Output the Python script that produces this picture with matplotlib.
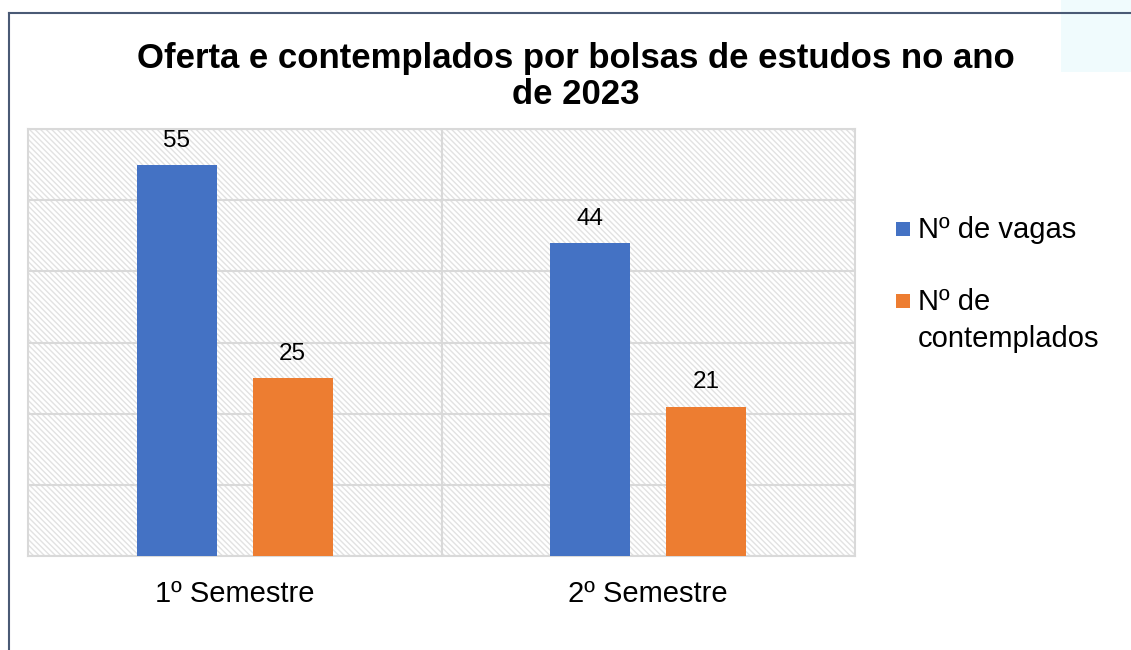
import matplotlib
matplotlib.use("Agg")
import matplotlib.pyplot as plt
from matplotlib.patches import Rectangle
from matplotlib.lines import Line2D
import numpy as np

plt.rcParams["font.family"] = ["Liberation Sans", "DejaVu Sans"]
plt.rcParams["hatch.linewidth"] = 1.0

# data
categories = ["1º Semestre", "2º Semestre"]
series_names = ["Nº de vagas", "Nº de\ncontemplados"]
vagas = [55, 44]
contemplados = [25, 21]
colors = ["#4472C4", "#ED7D31"]

W, H = 1131, 650
fig = plt.figure(figsize=(W / 100, H / 100), dpi=100)

# outer frame (runs off the right and bottom edges) and the light blue patch
fig.add_artist(Line2D([9 / W, 9 / W], [0, 1 - 13 / H], color="#4a5a75", lw=1.5))
fig.add_artist(Line2D([9 / W, 1], [1 - 13 / H, 1 - 13 / H], color="#4a5a75", lw=1.5))
fig.add_artist(Rectangle((1061 / W, 1 - 72 / H), 70 / W, 72 / H,
                         facecolor="#f0fbfd", edgecolor="none"))

ax = fig.add_axes([28 / W, 94 / H, 827 / W, 427 / H])

# hatched plot area
ax.add_patch(Rectangle((0, 0), 1, 1, transform=ax.transAxes, facecolor="white",
                       edgecolor="#e2e2e2", hatch="\\\\\\\\\\\\", lw=0, zorder=0))

x = np.arange(len(categories))
bw = 0.194
off = 0.14
for vals, sign, c in [(vagas, -1, colors[0]), (contemplados, 1, colors[1])]:
    bars = ax.bar(x + sign * off, vals, width=bw, color=c, zorder=3)
    for b, v in zip(bars, vals):
        ax.annotate(str(v), (b.get_x() + b.get_width() / 2, v),
                    xytext=(0, 13), textcoords="offset points",
                    ha="center", va="baseline", fontsize=17.5)

ax.set_xlim(-0.5, 1.5)
ax.set_ylim(0, 60)
ax.set_yticks(np.arange(0, 61, 10))
ax.yaxis.grid(True, color="#d9d9d9", lw=1.5, zorder=1)
ax.set_axisbelow(True)
ax.axvline(0.5, color="#d9d9d9", lw=1.5, zorder=1)
ax.set_yticklabels([])
ax.tick_params(axis="y", length=0)
ax.set_xticks(x)
ax.set_xticklabels(categories, fontsize=21)
ax.tick_params(axis="x", length=0, pad=17)
for s in ax.spines.values():
    s.set_color("#d9d9d9")
    s.set_linewidth(1.5)

# title, two lines
title_lines = ["Oferta e contemplados por bolsas de estudos no ano", "de 2023"]
for line, by in zip(title_lines, [68, 104]):
    fig.text(576 / W, 1 - by / H, line, ha="center", va="baseline",
             fontsize=25, fontweight="bold")

# legend
legend_y = [236, 308]
for name, c, ly in zip(series_names, colors, legend_y):
    fig.add_artist(Rectangle((896 / W, 1 - ly / H), 14 / W, 14 / H,
                             facecolor=c, edgecolor="none"))
    for k, part in enumerate(name.split("\n")):
        fig.text(918 / W, 1 - (ly + 2 + 37 * k) / H, part,
                 ha="left", va="baseline", fontsize=21)

fig.savefig("out.png", dpi=100)
